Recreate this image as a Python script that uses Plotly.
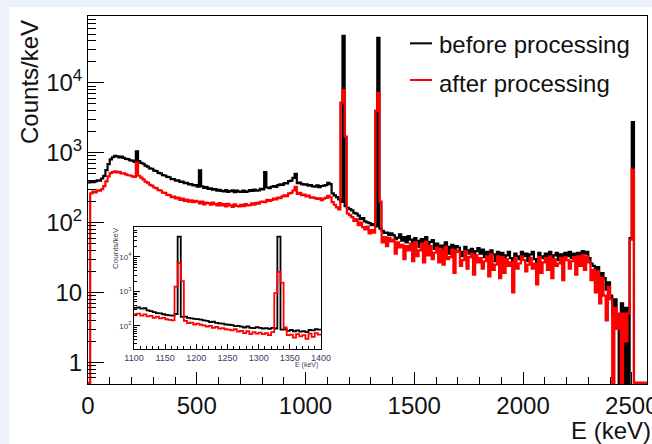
import numpy as np
import plotly.graph_objects as go

# ---------------- data ----------------
# main spectrum: 10 keV bins, bin start energies 0..2560 keV
main_bin = 10
before_main = [
    375, 392, 380, 388, 404, 398, 428, 466, 562, 688,      # 0
    805, 862, 902, 884, 858, 878, 842, 818, 810, 776,      # 100
    770, 742, 1050, 760, 718, 696, 655, 632, 598, 590,     # 200
    555, 548, 514, 505, 478, 472, 450, 446, 420, 418,      # 300
    400, 402, 382, 386, 366, 370, 352, 356, 340, 344,      # 400
    328, 560, 330, 314, 322, 304, 310, 296, 302, 286,      # 500
    294, 284, 280, 292, 276, 282, 290, 272, 286, 278,      # 600
    276, 288, 274, 280, 292, 284, 296, 286, 290, 304,      # 700
    298, 530, 318, 310, 326, 332, 324, 344, 352, 346,      # 800
    368, 364, 392, 400, 436, 500, 366, 374, 356, 350,      # 900
    352, 338, 344, 330, 328, 340, 322, 334, 338, 345,      # 1000
    372, 355, 262, 246, 232, 214, 198, 47000, 172, 162,    # 1100
    156, 150, 138, 134, 126, 112, 116, 104, 101, 98,       # 1200
    92, 95, 88, 44000, 82, 76, 71, 72, 66, 70,             # 1300
    66, 58, 61, 68, 55, 62, 52, 64, 57, 49,                # 1400
    60, 55, 45, 58, 51, 62, 44, 53, 56, 42,                # 1500
    50, 44, 47, 38, 52, 45, 36, 48, 41, 46,                # 1600
    44, 38, 33, 45, 40, 36, 42, 31, 39, 43,                # 1700
    36, 41, 32, 38, 30, 40, 35, 28, 38, 33,                # 1800
    37, 29, 34, 38, 31, 27, 36, 33, 30, 38,                # 1900
    33, 36, 28, 35, 38, 30, 26, 37, 33, 31,                # 2000
    36, 30, 38, 28, 34, 37, 29, 35, 31, 37,                # 2100
    33, 38, 31, 36, 29, 37, 34, 39, 36, 38,                # 2200
    31, 26, 24, 21, 23, 15, 19, 16, 11, 14,                # 2300
    9, 5, 8, 4, 0, 7, 0, 6, 0, 60,                         # 2400
    2750, 0, 0, 0, 0, 0, 0,                                # 2500
]
after_main = [
    0, 262, 278, 270, 290, 286, 300, 332, 390, 458,        # 0
    510, 528, 540, 522, 532, 508, 505, 490, 476, 472,      # 100
    458, 452, 720, 468, 440, 416, 385, 374, 348, 338,      # 200
    318, 312, 292, 288, 268, 266, 250, 248, 232, 236,      # 300
    222, 228, 212, 220, 204, 214, 200, 208, 196, 204,      # 400
    200, 188, 200, 182, 194, 190, 180, 194, 184, 176,      # 500
    190, 176, 184, 170, 186, 176, 168, 182, 174, 170,      # 600
    180, 172, 184, 176, 178, 188, 180, 192, 186, 198,      # 700
    200, 196, 212, 204, 210, 220, 214, 228, 224, 238,      # 800
    246, 240, 262, 266, 288, 325, 258, 266, 248, 252,      # 900
    238, 244, 228, 230, 224, 218, 222, 210, 220, 226,      # 1000
    242, 230, 196, 180, 165, 155, 5200, 7900, 1700, 135,   # 1100
    128, 120, 106, 112, 92, 100, 86, 80, 88, 70,           # 1200
    78, 72, 4000, 7200, 200, 52, 62, 46, 60, 54,           # 1300
    57, 36, 52, 44, 48, 30, 46, 40, 50, 28,                # 1400
    52, 33, 40, 50, 27, 53, 34, 46, 30, 37,                # 1500
    44, 27, 41, 25, 45, 30, 32, 41, 19, 40,                # 1600
    38, 24, 29, 39, 22, 32, 36, 18, 34, 27,                # 1700
    31, 22, 28, 33, 17, 35, 21, 25, 33, 16,                # 1800
    32, 19, 30, 24, 27, 10, 31, 22, 26, 33,                # 1900
    29, 20, 25, 31, 22, 26, 13, 32, 19, 27,                # 2000
    31, 21, 33, 16, 30, 24, 26, 31, 15, 32,                # 2100
    29, 22, 28, 32, 18, 33, 24, 34, 21, 33,                # 2200
    27, 15, 21, 10, 20, 7, 16, 9, 4, 12,                   # 2300
    8, 0, 6, 3, 5, 0, 5, 2, 5, 57,                         # 2400
    575, 0, 0, 0, 0, 0, 0,                                 # 2500
]

# inset: 5 keV bins, 1100..1395 keV
inset_bin = 5
before_inset = [
    335, 342, 318, 326, 282, 270, 250, 236, 232, 218,
    210, 202, 198, 222, 39000, 182, 185, 172, 166, 160,
    158, 152, 145, 140, 130, 132, 122, 118, 116, 110,
    108, 106, 98, 100, 95, 90, 96, 88, 86, 92,
    88, 84, 86, 82, 88, 84, 39000, 78, 80, 72,
    76, 70, 74, 68, 70, 66, 76, 74, 80, 78,
]
after_inset = [
    218, 226, 200, 215, 190, 196, 172, 186, 165, 170,
    156, 150, 145, 1380, 6700, 2000, 140, 120, 124, 110,
    116, 108, 104, 96, 100, 88, 94, 84, 86, 80,
    78, 74, 80, 68, 72, 62, 70, 58, 66, 60,
    64, 58, 62, 54, 66, 900, 3700, 1800, 90, 54,
    56, 46, 58, 50, 54, 42, 60, 48, 62, 56,
]

series_names = ["before processing", "after processing"]
series_colors = ["#000000", "#ff0000"]
y_tickvals = [1, 10, 100, 1000, 10000]
y_ticktext = ["1", "10", "10<sup>2</sup>", "10<sup>3</sup>", "10<sup>4</sup>"]
x_tickvals = [0, 500, 1000, 1500, 2000, 2500]
inset_xticks = [1100, 1150, 1200, 1250, 1300, 1350, 1400]
inset_yvals = [100, 1000, 10000]
inset_ytext = ["10<sup>2</sup>", "10<sup>3</sup>", "10<sup>4</sup>"]

# ---------------- helpers ----------------
Y_MAIN = [-0.31, 4.957]
Y_INSET = [1.33, 4.87]
FONT = "Liberation Sans, Arial, sans-serif"


def steps(start, width, vals, floor):
    edges = start + width * np.arange(len(vals) + 1)
    ys = [v if v > 0 else floor for v in vals]
    ys = ys + [ys[-1]]
    return edges, ys


def minor_logs(lo, hi):
    out = []
    for k in range(int(np.floor(lo)) - 1, int(np.ceil(hi)) + 1):
        for d in range(2, 10):
            v = d * 10.0 ** k
            if lo <= np.log10(v) <= hi:
                out.append(v)
    return out


fig = go.Figure()
floor_main = 10 ** (Y_MAIN[0] + 0.015)
for vals, name, col in zip([before_main, after_main], series_names, series_colors):
    x, y = steps(0, main_bin, vals, floor_main)
    fig.add_trace(go.Scatter(x=x, y=y, mode="lines", name=name,
                             line=dict(color=col, width=2.2, shape="hv"),
                             showlegend=False, xaxis="x", yaxis="y"))

floor_inset = 10 ** (Y_INSET[0] - 1)
for vals, name, col in zip([before_inset, after_inset], series_names, series_colors):
    x, y = steps(1100, inset_bin, vals, floor_inset)
    fig.add_trace(go.Scatter(x=x, y=y, mode="lines", name=name,
                             line=dict(color=col, width=1.8, shape="hv"),
                             showlegend=False, xaxis="x2", yaxis="y2"))

txt = "#111111"
fig.update_layout(
    width=652, height=444,
    margin=dict(l=88, r=5, t=16, b=60, autoexpand=False),
    paper_bgcolor="#edf1fa", plot_bgcolor="white",
    font=dict(family=FONT, color=txt),
    xaxis=dict(range=[0, 2570], tickvals=x_tickvals, ticks="inside", ticklen=12,
               tickcolor="black", showline=True, linecolor="black", linewidth=1,
               mirror=True, showgrid=False, zeroline=False, automargin=False,
               ticklabeloverflow="allow",
               tickfont=dict(size=24, color=txt),
               minor=dict(dtick=100, tick0=0, ticks="inside", ticklen=7, tickcolor="black", showgrid=False)),
    yaxis=dict(type="log", range=Y_MAIN, tickvals=y_tickvals, ticktext=y_ticktext,
               ticks="inside", ticklen=16, tickcolor="black", showline=True,
               linecolor="black", linewidth=1, mirror=True, showgrid=False,
               zeroline=False, automargin=False, ticklabeloverflow="allow",
               tickfont=dict(size=24, color=txt),
               minor=dict(tickvals=minor_logs(*Y_MAIN), ticks="inside", ticklen=8,
                          tickcolor="black", showgrid=False)),
    xaxis2=dict(domain=[0.0823, 0.4168], anchor="y2", range=[1100, 1400],
                tickvals=inset_xticks, ticks="inside", ticklen=5, tickcolor="black",
                showline=True, linecolor="black", linewidth=1, mirror=True,
                showgrid=False, zeroline=False, automargin=False,
                tickfont=dict(size=9, color="#3a3a6a"),
                minor=dict(dtick=10, tick0=1100, ticks="inside", ticklen=3,
                           tickcolor="black", showgrid=False)),
    yaxis2=dict(domain=[0.0951, 0.4266], anchor="x2", type="log", range=Y_INSET,
                tickvals=inset_yvals, ticktext=inset_ytext, ticks="inside", ticklen=6,
                tickcolor="black", showline=True, linecolor="black", linewidth=1,
                mirror=True, showgrid=False, zeroline=False, automargin=False,
                tickfont=dict(size=8, color="#3a3a6a"),
                minor=dict(tickvals=minor_logs(*Y_INSET), ticks="inside", ticklen=3,
                           tickcolor="black", showgrid=False)),
)

# white panel behind the chart (light blue strips stay at top / left)
fig.add_shape(type="rect", xref="paper", yref="paper", x0=-0.1413, x1=1.05,
              y0=-0.4, y1=1.0245, fillcolor="white", line=dict(width=0), layer="below")

# legend drawn by hand
for i, (name, col) in enumerate(zip(series_names, series_colors)):
    yl = [0.9257, 0.8261][i]
    yt = [0.9212, 0.8179][i]
    fig.add_shape(type="line", xref="paper", yref="paper", x0=0.576, x1=0.6154,
                  y0=yl, y1=yl, line=dict(color=col, width=2))
    fig.add_annotation(text=name, xref="paper", yref="paper", x=0.6243, y=yt,
                       xanchor="left", yanchor="middle", showarrow=False,
                       font=dict(size=24, color=txt, family=FONT))

# axis titles
fig.add_annotation(text="Counts/keV", xref="paper", yref="paper", x=-0.1038, y=0.8207,
                   textangle=-90, xanchor="center", yanchor="middle", showarrow=False,
                   font=dict(size=24, color=txt, family=FONT))
fig.add_annotation(text="E (keV)", xref="paper", yref="paper", x=1.01, y=-0.125,
                   xanchor="right", yanchor="middle", showarrow=False,
                   font=dict(size=24, color=txt, family=FONT))
fig.add_annotation(text="Counts/keV", xref="paper", yref="paper", x=0.0501, y=0.3696,
                   textangle=-90, xanchor="center", yanchor="middle", showarrow=False,
                   font=dict(size=8, color="#4a4050", family=FONT))
fig.add_annotation(text="E (keV)", xref="paper", yref="paper", x=0.415, y=0.0516,
                   xanchor="right", yanchor="middle", showarrow=False,
                   font=dict(size=7, color="#4a4050", family=FONT))

fig.write_html("out.html")
